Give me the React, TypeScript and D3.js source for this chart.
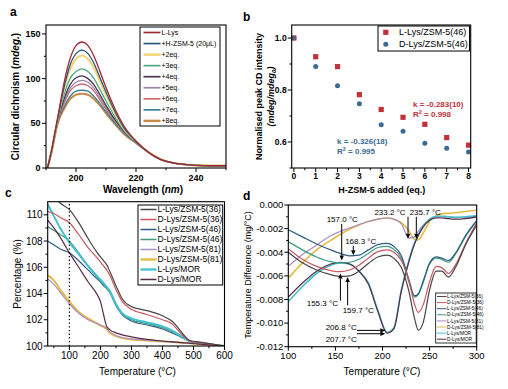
import React from "react";
import * as d3 from "d3";

const FONT = "'Liberation Sans', Arimo, Arial, sans-serif";

// ---------------- Panel a : CD spectra ----------------
const cdWavelength = [190.5, 192, 193, 194, 196, 198, 200, 202, 204, 206, 208, 210, 213, 216, 220, 224, 228, 232, 236, 240, 245, 250];
const cdLLys = [0, 22, 40, 58, 95, 122, 137, 141, 137, 125, 108, 90, 66, 47, 30, 18, 10, 6, 4, 3, 2.5, 2.5];
const cdZSM = [0, 22, 40, 57, 90, 115, 128, 132, 128, 117, 101, 85, 63, 45, 30, 18, 10, 6, 4, 3, 2.5, 2.5];
const cd2eq = [0, 22, 40, 57, 88, 110, 122, 126, 122, 112, 97, 82, 61, 44, 30, 18, 10, 6, 4, 3, 2.5, 2.5];
const cd3eq = [0, 21, 39, 56, 82, 100, 108, 111, 108, 100, 88, 75, 57, 42, 29, 18, 10, 6, 4, 3, 2.5, 2.5];
const cd4eq = [0, 21, 39, 55, 77, 93, 101, 103, 100, 93, 82, 70, 54, 41, 29, 18, 10, 6, 4, 3, 2.5, 2.5];
const cd5eq = [0, 21, 38, 54, 74, 89, 96, 98, 96, 89, 79, 68, 53, 40, 29, 18, 10, 6, 4, 3, 2.5, 2.5];
const cd6eq = [0, 21, 38, 53, 72, 86, 92, 94, 92, 86, 76, 66, 52, 40, 29, 18, 10, 6, 4, 3, 2.5, 2.5];
const cd7eq = [0, 20, 37, 52, 68, 80, 86, 87, 86, 80, 72, 63, 50, 39, 28, 18, 10, 6, 4, 3, 2.5, 2.5];
const cd8eq = [0, 20, 37, 51, 66, 77, 82, 83, 82, 77, 70, 61, 49, 38, 28, 18, 10, 6, 4, 3, 2.5, 2.5];
const cdSeries = [cdLLys, cdZSM, cd2eq, cd3eq, cd4eq, cd5eq, cd6eq, cd7eq, cd8eq];
const cdNames = ["L-Lys", "+H-ZSM-5 (20\u03bcL)", "+2eq.", "+3eq.", "+4eq.", "+5eq.", "+6eq.", "+7eq.", "+8eq."];
const cdColors = ["#9e2838", "#2b5a7e", "#f2d36e", "#4daa82", "#4b3552", "#9788aa", "#cc6a6c", "#3d7f90", "#c98947"];
const cdWidths = [1.3, 1.3, 2, 1.3, 1.3, 1.3, 1.3, 1.3, 2];
const aXTicks = [200, 220, 240];
const aXMinor = [190, 210, 230, 250];
const aYTicks = [0, 50, 100, 150];
const aYMinor = [25, 75, 125];

// ---------------- Panel b : normalised peak ----------------
const bEq = [0, 1, 2, 3, 4, 5, 6, 7, 8];
const bLLys = [1.0, 0.928, 0.89, 0.782, 0.725, 0.695, 0.668, 0.617, 0.588];
const bDLys = [1.0, 0.89, 0.816, 0.747, 0.666, 0.641, 0.595, 0.576, 0.562];
const bNames = ["L-Lys/ZSM-5(46)", "D-Lys/ZSM-5(46)"];
const bColors = ["#c2303c", "#3a6b93"];
const bXTicks = [0, 1, 2, 3, 4, 5, 6, 7, 8];
const bXMinor = [0.5, 1.5, 2.5, 3.5, 4.5, 5.5, 6.5, 7.5];
const bYTicks = [0.6, 0.8, 1.0];
const bYMinor = [0.5, 0.7, 0.9];

// ---------------- Panel c : TGA ----------------
const tgaT = [30, 50, 70, 100, 130, 160, 190, 200, 210, 220, 230, 250, 270, 300, 350, 400, 430, 450, 470, 490, 520, 560, 600];
const tgaL36 = [112.0, 111.4, 110.9, 110.4, 109.4, 108.2, 107.1, 106.8, 106.5, 106.2, 105.7, 104.6, 103.6, 103.0, 102.7, 102.3, 101.9, 101.4, 100.8, 100.4, 100.3, 100.15, 100.0];
const tgaD36 = [110.25, 110.1, 109.8, 109.4, 108.5, 107.5, 106.7, 106.4, 106.1, 105.8, 105.4, 104.3, 103.4, 102.8, 102.4, 102.0, 101.7, 101.2, 100.7, 100.35, 100.25, 100.12, 100.0];
const tgaL46 = [108.0, 107.7, 107.4, 107.1, 106.5, 105.8, 105.1, 104.9, 104.6, 104.4, 104.1, 103.1, 102.4, 101.9, 101.6, 101.3, 101.0, 100.8, 100.55, 100.35, 100.25, 100.12, 100.0];
const tgaD46 = [109.1, 108.8, 108.5, 108.0, 107.1, 106.1, 105.2, 104.95, 104.7, 104.4, 104.1, 103.1, 102.4, 102.0, 101.7, 101.4, 101.1, 100.9, 100.6, 100.35, 100.25, 100.12, 100.0];
const tgaL81 = [105.1, 104.7, 104.1, 103.2, 102.5, 102.0, 101.7, 101.6, 101.5, 101.35, 101.1, 100.8, 100.65, 100.55, 100.45, 100.35, 100.3, 100.28, 100.25, 100.22, 100.18, 100.1, 100.0];
const tgaD81 = [105.4, 105.0, 104.3, 103.4, 102.6, 102.1, 101.7, 101.55, 101.45, 101.3, 101.0, 100.75, 100.6, 100.5, 100.42, 100.35, 100.3, 100.27, 100.24, 100.2, 100.16, 100.08, 100.0];
const tgaLMOR = [110.8, 109.9, 109.0, 107.9, 107.0, 106.1, 105.3, 105.05, 104.8, 104.5, 104.2, 103.2, 102.5, 102.1, 101.8, 101.5, 101.2, 100.9, 100.6, 100.35, 100.25, 100.12, 100.0];
const tgaDMOR = [109.6, 109.0, 108.3, 107.1, 106.0, 104.9, 103.9, 103.4, 102.4, 101.5, 101.25, 101.0, 100.85, 100.7, 100.5, 100.38, 100.32, 100.28, 100.24, 100.2, 100.15, 100.08, 100.0];
const tgaSeries = [tgaL36, tgaD36, tgaL46, tgaD46, tgaL81, tgaD81, tgaLMOR, tgaDMOR];

const sampleNames = ["L-Lys/ZSM-5(36)", "D-Lys/ZSM-5(36)", "L-Lys/ZSM-5(46)", "D-Lys/ZSM-5(46)", "L-Lys/ZSM-5(81)", "D-Lys/ZSM-5(81)", "L-Lys/MOR", "D-Lys/MOR"];
const sampleColors = ["#4a4446", "#c9585f", "#2c5d83", "#3f9b80", "#a98cc8", "#e2ba42", "#43bfcf", "#5a2a45"];
const sampleWidths = [1.2, 1.2, 1.2, 1.2, 1.2, 2, 2, 1.2];
const cXTicks = [100, 200, 300, 400, 500, 600];
const cXMinor = [50, 150, 250, 350, 450, 550];
const cYTicks = [100, 102, 104, 106, 108, 110];
const cYMinor = [101, 103, 105, 107, 109];
const cMarkT = 100;

// ---------------- Panel d : DSC (values in 10^-3 mg/°C) ----------------
const dscT = [100, 115, 130, 145, 155, 165, 175, 185, 195, 205, 212, 220, 228, 234, 238, 243, 250, 257, 263, 270, 278, 288, 300];
const dscL36 = [-4.0, -4.9, -5.5, -5.9, -6.05, -6.0, -5.6, -4.95, -4.4, -4.25, -4.5, -5.3, -7.3, -9.6, -10.6, -10.0, -7.2, -5.6, -5.6, -6.1, -5.2, -3.4, -1.7];
const dscD36 = [-3.7, -4.6, -5.2, -5.55, -5.65, -5.5, -5.1, -4.5, -3.95, -3.8, -4.0, -4.7, -6.4, -8.4, -9.1, -8.5, -6.5, -5.2, -5.3, -5.8, -5.0, -3.3, -1.5];
const dscL46 = [-2.1, -2.7, -3.3, -3.8, -4.1, -4.3, -4.25, -3.8, -3.35, -3.25, -3.5, -4.3, -6.3, -7.7, -7.5, -6.5, -4.9, -4.4, -4.5, -4.7, -4.0, -2.6, -1.3];
const dscD46 = [-3.1, -3.8, -4.4, -4.8, -4.9, -4.85, -4.6, -4.1, -3.6, -3.5, -3.75, -4.5, -6.5, -7.8, -7.6, -6.6, -5.0, -4.5, -4.6, -4.85, -4.1, -2.7, -1.4];
const dscL81 = [-5.2, -4.2, -3.4, -2.6, -2.25, -1.95, -1.65, -1.4, -1.2, -1.1, -1.2, -1.6, -2.8, -2.7, -2.2, -1.7, -1.25, -1.05, -1.0, -1.0, -1.05, -1.05, -1.0];
const dscD81 = [-6.2, -4.9, -3.8, -3.0, -2.5, -2.05, -1.7, -1.4, -1.2, -1.1, -1.2, -1.5, -2.2, -2.9, -2.95, -2.4, -1.4, -0.9, -0.75, -0.7, -0.65, -0.55, -0.45];
const dscLMOR = [-8.2, -6.9, -5.8, -5.1, -4.9, -5.0, -5.6, -6.6, -8.9, -10.8, -10.4, -7.2, -4.7, -3.2, -2.5, -1.8, -1.2, -0.95, -0.95, -1.0, -1.05, -1.0, -0.9];
const dscDMOR = [-7.8, -6.6, -5.6, -5.0, -4.85, -5.0, -5.6, -6.7, -9.0, -10.85, -10.5, -7.3, -4.8, -3.3, -2.6, -1.9, -1.3, -1.1, -1.1, -1.15, -1.2, -1.15, -1.0];
const dscSeries = [dscL36, dscD36, dscL46, dscD46, dscL81, dscD81, dscLMOR, dscDMOR];
const dXTicks = [100, 150, 200, 250, 300];
const dXMinor = [125, 175, 225, 275];
const dYTicks = [0, -2, -4, -6, -8, -10, -12];
const dYMinor = [-1, -3, -5, -7, -9, -11];

// annotations: label, text position (T, value), arrow from -> to
const dAnnotLabels = ["157.0 \u00b0C", "168.3 \u00b0C", "155.3 \u00b0C", "159.7 \u00b0C", "233.2 \u00b0C", "235.7 \u00b0C", "206.8 \u00b0C", "207.7 \u00b0C"];
const dAnnotText = [[157.3, -1.45], [176.9, -3.3], [136.1, -8.53], [174.3, -9.12], [208.0, -0.85], [245.4, -0.85], [156.2, -10.58], [156.2, -11.6]];
const dAnnotFrom = [[156.7, -1.6], [169.0, -3.45], [155.3, -8.1], [163.0, -8.5], [227.1, -1.0], [235.9, -1.0], [172.9, -10.62], [172.9, -10.9]];
const dAnnotTo = [[156.7, -4.7], [169.0, -4.25], [155.3, -5.8], [163.0, -6.1], [227.1, -2.85], [235.9, -2.85], [203.0, -10.62], [203.0, -10.9]];

// ---------------- helpers ----------------
type Sc = d3.ScaleLinear<number, number>;

function Axes(props: {
  x: Sc; y: Sc; xt: number[]; xm: number[]; yt: number[]; ym: number[];
  xf: (v: number) => string; yf: (v: number) => string; fs: number; fw?: string;
  xDy: number; yDx: number;
}) {
  const { x, y, xt, xm, yt, ym, xf, yf, fs, fw, xDy, yDx } = props;
  const [x0, x1] = x.range();
  const [y0, y1] = y.range();
  const T = 4, M = 2.2;
  return (
    <g fontFamily={FONT} fontSize={fs} fontWeight={fw || "normal"}>
      <rect x={x0} y={y1} width={x1 - x0} height={y0 - y1} fill="none" stroke="#000" strokeWidth={1.1} />
      {xt.map((v) => (
        <g key={"xt" + v}>
          <line x1={x(v)} x2={x(v)} y1={y0} y2={y0 + T} stroke="#000" strokeWidth={1} />
          <text x={x(v)} y={y0 + xDy} textAnchor="middle">{xf(v)}</text>
        </g>
      ))}
      {xm.map((v) => (
        <line key={"xm" + v} x1={x(v)} x2={x(v)} y1={y0} y2={y0 + M} stroke="#000" strokeWidth={1} />
      ))}
      {yt.map((v) => (
        <g key={"yt" + v}>
          <line x1={x0} x2={x0 - T} y1={y(v)} y2={y(v)} stroke="#000" strokeWidth={1} />
          <text x={x0 - yDx} y={y(v)} dy="0.35em" textAnchor="end">{yf(v)}</text>
        </g>
      ))}
      {ym.map((v) => (
        <line key={"ym" + v} x1={x0} x2={x0 - M} y1={y(v)} y2={y(v)} stroke="#000" strokeWidth={1} />
      ))}
    </g>
  );
}

function Arrow({ x1, y1, x2, y2 }: { x1: number; y1: number; x2: number; y2: number }) {
  const ang = Math.atan2(y2 - y1, x2 - x1);
  const L = 5, W = 2.2;
  const bx = x2 - L * Math.cos(ang), by = y2 - L * Math.sin(ang);
  const px = -Math.sin(ang) * W, py = Math.cos(ang) * W;
  return (
    <g>
      <line x1={x1} y1={y1} x2={bx} y2={by} stroke="#000" strokeWidth={1} />
      <path d={`M${x2},${y2}L${bx + px},${by + py}L${bx - px},${by - py}Z`} fill="#000" />
    </g>
  );
}

export default function App() {
  // Panel a
  const ax = d3.scaleLinear().domain([190, 250]).range([46, 226]);
  const ay = d3.scaleLinear().domain([0, 160]).range([168, 25]);
  const aLine = (vals: number[]) =>
    d3.line<number>().x((_, i) => ax(cdWavelength[i])).y((v) => ay(v)).curve(d3.curveMonotoneX)(vals) || "";

  // Panel b
  const bx = d3.scaleLinear().domain([-0.1, 8.1]).range([291.7, 470.7]);
  const by = d3.scaleLinear().domain([0.5, 1.05]).range([168, 25]);

  // Panel c
  const cx = d3.scaleLinear().domain([30, 600]).range([47.7, 224.5]);
  const cy = d3.scaleLinear().domain([100, 111]).range([346, 201.7]);
  const cLine = (vals: number[]) =>
    d3.line<number>().x((_, i) => cx(tgaT[i])).y((v) => cy(v)).curve(d3.curveMonotoneX)(vals) || "";

  // Panel d
  const dx = d3.scaleLinear().domain([100, 300]).range([288.3, 476.7]);
  const dy = d3.scaleLinear().domain([-12, 0]).range([346.7, 205]);
  const dLine = (vals: number[]) =>
    d3.line<number>().x((_, i) => dx(dscT[i])).y((v) => dy(v)).curve(d3.curveMonotoneX)(vals) || "";

  const aOrder = [8, 7, 6, 5, 4, 3, 2, 1, 0];
  const cOrder = [5, 4, 2, 3, 6, 7, 1, 0];
  const dOrder = [5, 4, 6, 7, 3, 2, 1, 0];

  return (
    <div style={{ position: "absolute", left: 0, top: 0 }}>
      <svg width={508} height={389} style={{ display: "block", background: "#fff" }}>
        <defs>
          <clipPath id="clipA"><rect x={46} y={25} width={180} height={143} /></clipPath>
          <clipPath id="clipC"><rect x={47.7} y={201.7} width={176.8} height={144.3} /></clipPath>
          <clipPath id="clipD"><rect x={288.3} y={205} width={188.4} height={141.7} /></clipPath>
        </defs>
        <rect x={0} y={0} width={508} height={389} fill="#fff" />

        {/* ---------- Panel a ---------- */}
        <g clipPath="url(#clipA)">
          {aOrder.map((i) => (
            <path key={"a" + i} d={aLine(cdSeries[i])} fill="none" stroke={cdColors[i]} strokeWidth={cdWidths[i]} />
          ))}
        </g>
        <Axes x={ax} y={ay} xt={aXTicks} xm={aXMinor} yt={aYTicks} ym={aYMinor}
          xf={(v) => String(v)} yf={(v) => String(v)} fs={9} fw="bold" xDy={12.5} yDx={5.5} />
        <g fontFamily={FONT} fontSize={7}>
          <rect x={140} y={27} width={80} height={99} fill="#fff" stroke="#000" strokeWidth={1} />
          {cdNames.map((n, i) => (
            <g key={"al" + i}>
              <line x1={143.5} x2={160.5} y1={32.5 + i * 11.05} y2={32.5 + i * 11.05} stroke={cdColors[i]} strokeWidth={cdWidths[i] + 0.4} />
              <text x={161.5} y={32.5 + i * 11.05} dy="0.35em">{n}</text>
            </g>
          ))}
        </g>
        <text x={143} y={193} fontFamily={FONT} fontSize={10} fontWeight="bold" textAnchor="middle">
          Wavelength (<tspan fontStyle="italic">nm</tspan>)
        </text>
        <text transform="translate(18.5,96.5) rotate(-90)" fontFamily={FONT} fontSize={10} fontWeight="bold" textAnchor="middle">
          Circular dichroism (<tspan fontStyle="italic">mdeg.</tspan>)
        </text>
        <text x={10} y={16} fontFamily={FONT} fontSize={12} fontWeight="bold">a</text>

        {/* ---------- Panel b ---------- */}
        {bEq.map((e, i) => (
          <rect key={"bl" + i} x={bx(e) - 2.6} y={by(bLLys[i]) - 2.6} width={5.2} height={5.2} fill={bColors[0]} />
        ))}
        {bEq.map((e, i) => (
          <circle key={"bd" + i} cx={bx(e)} cy={by(bDLys[i])} r={2.5} fill={bColors[1]} opacity={i === 0 ? 0.7 : 1} />
        ))}
        <Axes x={bx} y={by} xt={bXTicks} xm={bXMinor} yt={bYTicks} ym={bYMinor}
          xf={(v) => String(v)} yf={(v) => v.toFixed(1)} fs={8.5} fw="bold" xDy={11} yDx={5} />
        <g fontFamily={FONT} fontSize={9}>
          <rect x={378} y={26} width={91.5} height={25} fill="#fff" stroke="#000" strokeWidth={1} />
          <rect x={383.2} y={29.7} width={5.2} height={5.2} fill={bColors[0]} />
          <text x={399} y={32.3} dy="0.35em">{bNames[0]}</text>
          <circle cx={385.8} cy={44.3} r={2.5} fill={bColors[1]} />
          <text x={399} y={44.3} dy="0.35em">{bNames[1]}</text>
        </g>
        <g fontFamily={FONT} fontSize={8} fontWeight="bold">
          <text x={413} y={107} fill="#c2303c">k = -0.283(10)</text>
          <text x={413} y={117} fill="#c2303c">R<tspan fontSize={5.5} dy={-3.5}>2</tspan><tspan dy={3.5}> = 0.998</tspan></text>
          <text x={337} y={144} fill="#3a6b93">k = -0.326(18)</text>
          <text x={337} y={154} fill="#3a6b93">R<tspan fontSize={5.5} dy={-3.5}>2</tspan><tspan dy={3.5}> = 0.995</tspan></text>
        </g>
        <text x={381.7} y={193} fontFamily={FONT} fontSize={9} fontWeight="bold" textAnchor="middle">
          H-ZSM-5 added (eq.)
        </text>
        <text transform="translate(262,96.5) rotate(-90)" fontFamily={FONT} fontSize={9} fontWeight="bold" textAnchor="middle">
          Normalised peak CD intensity
        </text>
        <text transform="translate(274,96.5) rotate(-90)" fontFamily={FONT} fontSize={9} fontWeight="bold" fontStyle="italic" textAnchor="middle">
          (mdeg/mdeg<tspan fontSize={6} dy={2}>0</tspan><tspan dy={-2}>)</tspan>
        </text>
        <text x={243} y={21} fontFamily={FONT} fontSize={12} fontWeight="bold">b</text>

        {/* ---------- Panel c ---------- */}
        <g clipPath="url(#clipC)">
          {cOrder.map((i) => (
            <path key={"c" + i} d={cLine(tgaSeries[i])} fill="none" stroke={sampleColors[i]} strokeWidth={sampleWidths[i]} />
          ))}
          <line x1={cx(cMarkT)} x2={cx(cMarkT)} y1={cy(100)} y2={cy(111)} stroke="#000" strokeWidth={1.3} strokeDasharray="1.3,2.4" />
        </g>
        <Axes x={cx} y={cy} xt={cXTicks} xm={cXMinor} yt={cYTicks} ym={cYMinor}
          xf={(v) => String(v)} yf={(v) => String(v)} fs={10} xDy={12.5} yDx={5} />
        <g fontFamily={FONT} fontSize={8.5}>
          <rect x={138} y={205} width={84.7} height={80} fill="#fff" stroke="#000" strokeWidth={1} />
          {sampleNames.map((n, i) => (
            <g key={"cl" + i}>
              <line x1={140.5} x2={156.5} y1={209.5 + i * 10} y2={209.5 + i * 10} stroke={sampleColors[i]} strokeWidth={sampleWidths[i] + 0.3} />
              <text x={157.5} y={209.5 + i * 10} dy="0.35em">{n}</text>
            </g>
          ))}
        </g>
        <text x={137.5} y={375} fontFamily={FONT} fontSize={10} textAnchor="middle">
          Temperature (°<tspan fontStyle="italic">C</tspan>)
        </text>
        <text transform="translate(20.5,274) rotate(-90)" fontFamily={FONT} fontSize={10} textAnchor="middle">
          Percentage (%)
        </text>
        <text x={5} y={197} fontFamily={FONT} fontSize={12} fontWeight="bold">c</text>

        {/* ---------- Panel d ---------- */}
        <g clipPath="url(#clipD)">
          {dOrder.map((i) => (
            <path key={"d" + i} d={dLine(dscSeries[i])} fill="none" stroke={sampleColors[i]} strokeWidth={sampleWidths[i] === 2 ? 1.6 : 1.2} />
          ))}
        </g>
        <Axes x={dx} y={dy} xt={dXTicks} xm={dXMinor} yt={dYTicks} ym={dYMinor}
          xf={(v) => String(v)} yf={(v) => (v / 1000).toFixed(3)} fs={9.5} xDy={12} yDx={5} />
        <g fontFamily={FONT} fontSize={8}>
          {dAnnotLabels.map((l, i) => (
            <g key={"an" + i}>
              <text x={dx(dAnnotText[i][0])} y={dy(dAnnotText[i][1])} textAnchor="middle">{l}</text>
              <Arrow x1={dx(dAnnotFrom[i][0])} y1={dy(dAnnotFrom[i][1])} x2={dx(dAnnotTo[i][0])} y2={dy(dAnnotTo[i][1])} />
            </g>
          ))}
        </g>
        <g fontFamily={FONT} fontSize={4.8}>
          <rect x={435.7} y={293} width={40.5} height={50} fill="#fff" stroke="#000" strokeWidth={0.8} />
          {sampleNames.map((n, i) => (
            <g key={"dl" + i}>
              <line x1={437} x2={446.5} y1={296.5 + i * 6.1} y2={296.5 + i * 6.1} stroke={sampleColors[i]} strokeWidth={1} />
              <text x={447} y={296.5 + i * 6.1} dy="0.35em">{n}</text>
            </g>
          ))}
        </g>
        <text x={382} y={375} fontFamily={FONT} fontSize={10} textAnchor="middle">
          Temperature (°<tspan fontStyle="italic">C</tspan>)
        </text>
        <text transform="translate(251,275) rotate(-90)" fontFamily={FONT} fontSize={9} textAnchor="middle">
          Temperature Difference (mg/°C)
        </text>
        <text x={243} y={200} fontFamily={FONT} fontSize={12} fontWeight="bold">d</text>
      </svg>
    </div>
  );
}
